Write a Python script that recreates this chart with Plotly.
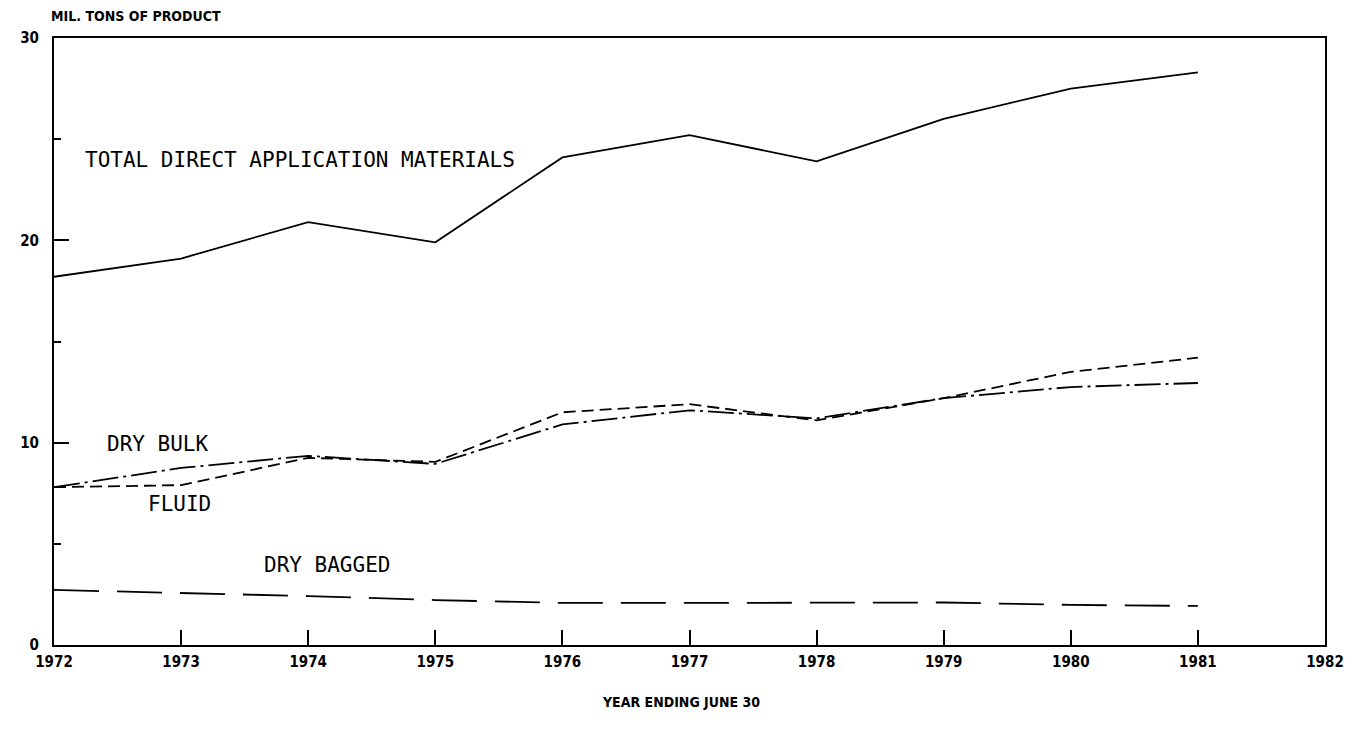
import plotly.graph_objects as go

years = [1972, 1973, 1974, 1975, 1976, 1977, 1978, 1979, 1980, 1981]
total_direct = [18.2, 19.1, 20.9, 19.9, 24.1, 25.2, 23.9, 26.0, 27.5, 28.3]
dry_bulk = [7.8, 8.75, 9.35, 8.95, 10.9, 11.6, 11.2, 12.2, 12.75, 12.95]
fluid = [7.8, 7.9, 9.25, 9.05, 11.5, 11.9, 11.1, 12.2, 13.5, 14.2]
dry_bagged = [2.72, 2.57, 2.42, 2.22, 2.08, 2.08, 2.08, 2.1, 1.98, 1.93]

x_ticks = list(range(1972, 1983))
x_labels = [str(v) for v in x_ticks]
y_ticks = [0, 10, 20, 30]
y_labels = ["0", "10", "20", "30"]

labels = [
    ("TOTAL DIRECT APPLICATION MATERIALS", 1972.23, 23.95),
    ("DRY BULK", 1972.40, 9.95),
    ("FLUID", 1972.72, 6.95),
    ("DRY BAGGED", 1973.64, 3.95),
]

fig = go.Figure()
line_w = 1.8
fig.add_trace(go.Scatter(x=years, y=total_direct, mode="lines",
                         line=dict(color="black", width=line_w), showlegend=False))
fig.add_trace(go.Scatter(x=years, y=dry_bulk, mode="lines",
                         line=dict(color="black", width=line_w, dash="26px,5px,3px,5px"), showlegend=False))
fig.add_trace(go.Scatter(x=years, y=fluid, mode="lines",
                         line=dict(color="black", width=line_w, dash="12px,6px"), showlegend=False))
fig.add_trace(go.Scatter(x=years, y=dry_bagged, mode="lines",
                         line=dict(color="black", width=line_w, dash="45px,18px"), showlegend=False))

label_font = dict(family="DejaVu Sans Mono", size=21, color="black")
for text, xv, yv in labels:
    fig.add_annotation(x=xv, y=yv, xref="x", yref="y", text=text, showarrow=False,
                       xanchor="left", yanchor="middle", font=label_font)

title_font = dict(family="Liberation Sans Narrow, DejaVu Sans Condensed", size=14, color="black", weight="bold")
tick_font = dict(family="Liberation Sans Narrow, DejaVu Sans Condensed", size=15, color="black", weight="bold")

fig.add_annotation(x=-0.004, y=1.0, xref="paper", yref="paper", yshift=22,
                   text="MIL. TONS OF PRODUCT", showarrow=False,
                   xanchor="left", yanchor="middle", font=title_font)
fig.add_annotation(x=0.493, y=0, xref="paper", yref="paper", yshift=-57,
                   text="YEAR ENDING JUNE 30", showarrow=False,
                   xanchor="center", yanchor="middle", font=title_font)

fig.update_layout(
    width=1337, height=720,
    margin=dict(l=46, r=20, t=30, b=83),
    paper_bgcolor="white", plot_bgcolor="white",
    showlegend=False,
    xaxis=dict(range=[1972, 1982], tickvals=x_ticks, ticktext=x_labels,
               ticks="inside", ticklen=15, tickwidth=1.5, tickcolor="black",
               showline=True, linecolor="black", linewidth=2, mirror=True,
               showgrid=False, zeroline=False, tickfont=tick_font, ticklabelstandoff=2,
               automargin=False, ticklabeloverflow="allow"),
    yaxis=dict(range=[0, 30], tickvals=y_ticks, ticktext=y_labels,
               ticks="inside", ticklen=15, tickwidth=1.5, tickcolor="black",
               minor=dict(tickvals=[5, 15, 25], ticks="inside", ticklen=7, tickwidth=1.5, tickcolor="black"),
               showline=True, linecolor="black", linewidth=2, mirror=True,
               showgrid=False, zeroline=False, tickfont=tick_font, ticklabelstandoff=10,
               automargin=False, ticklabeloverflow="allow"),
)

fig.write_html("out.html")
